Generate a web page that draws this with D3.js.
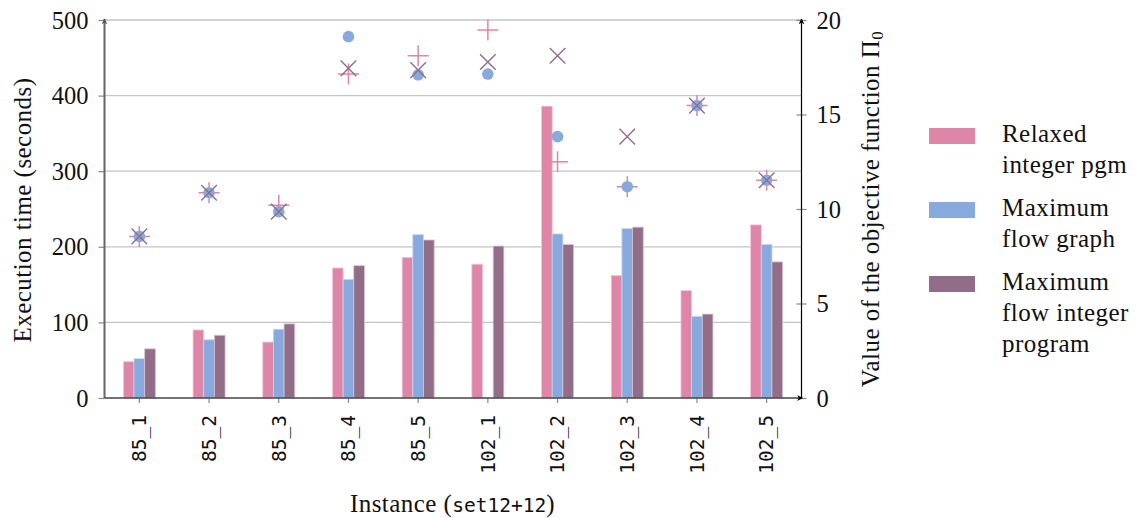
<!DOCTYPE html>
<html>
<head>
<meta charset="utf-8">
<script src="https://cdn.jsdelivr.net/npm/d3@7"></script>
<style>
  html, body { margin: 0; padding: 0; background: #fff; }
  svg { display: block; }
</style>
</head>
<body>
<svg id="chart" width="1141" height="518"></svg>
<script>
// ---- data ----
const categories = ["85_1","85_2","85_3","85_4","85_5","102_1","102_2","102_3","102_4","102_5"];
const seriesNames = ["Relaxed integer pgm", "Maximum flow graph", "Maximum flow integer program"];
// execution time (seconds), left axis
const timeRelaxed = [48, 90, 74, 172, 186, 177, 386, 162, 142, 229];
const timeFlowGraph = [52, 77, 91, 157, 216, 0, 217, 224, 108, 203];
const timeFlowIP = [65, 83, 98, 175, 209, 201, 203, 226, 111, 180];
// objective value, right axis
const objRelaxed = [8.55, 10.86, 10.2, 17.14, 18.11, 19.47, 12.5, 11.18, 15.47, 11.52];
const objFlowGraph = [8.55, 10.86, 9.86, 19.12, 17.1, 17.14, 13.83, 11.18, 15.47, 11.52];
const objFlowIP = [8.55, 10.86, 9.86, 17.44, 17.35, 17.78, 18.11, 13.83, 15.47, 11.52];
const leftTicks = [0, 100, 200, 300, 400, 500];
const rightTicks = [0, 5, 10, 15, 20];
const legendLines = [["Relaxed", "integer pgm"], ["Maximum", "flow graph"], ["Maximum", "flow integer", "program"]];

// ---- style ----
const colors = ["#de86a8", "#87a9dd", "#916d88"];
const borders = ["#f3c6d7", "#c6d6f0", "#d6c2d0"];
const serif = "'Liberation Serif', 'DejaVu Serif', serif";
const mono = "'DejaVu Sans Mono', monospace";
const fs = 25, ls = 0.45;

const svg = d3.select("#chart");
const L = 104.5, R = 801.5, T = 20, B = 398;

const x = d3.scaleBand().domain(categories).range([L, R]).padding(0);
const yL = d3.scaleLinear().domain([0, 500]).range([B, T]);
const yR = d3.scaleLinear().domain([0, 20]).range([B, T]);

const defs = svg.append("defs");
function arrow(id, color) {
  defs.append("marker").attr("id", id).attr("viewBox", "0 0 10 10")
    .attr("refX", 9).attr("refY", 5).attr("markerWidth", 6).attr("markerHeight", 6)
    .attr("markerUnits", "userSpaceOnUse").attr("orient", "auto")
    .append("path").attr("d", "M0,0 L10,5 L0,10 L3,5 Z").attr("fill", color);
}
arrow("arrGrey", "#555");
arrow("arrBlack", "#000");

// grid lines
svg.append("g").selectAll("line").data(leftTicks.filter(d => d > 0)).join("line")
  .attr("x1", L).attr("x2", R).attr("y1", d => yL(d)).attr("y2", d => yL(d))
  .attr("stroke", "#c4c4c4").attr("stroke-width", 1.3);

// left axis ticks + labels
const gl = svg.append("g").attr("transform", `translate(${L},0)`)
  .call(d3.axisLeft(yL).tickValues(leftTicks).tickSize(6).tickPadding(10));
gl.select(".domain").remove();
gl.selectAll(".tick line").attr("stroke", "#888").attr("stroke-width", 1.2);
gl.selectAll(".tick text").attr("font-family", serif).attr("font-size", 24.5).attr("fill", "#111").attr("dy", "0.33em");

// right axis ticks + labels
const gr = svg.append("g").attr("transform", `translate(${R},0)`)
  .call(d3.axisRight(yR).tickValues(rightTicks).tickSize(5).tickPadding(10));
gr.select(".domain").remove();
gr.selectAll(".tick line").attr("x1", -5).attr("stroke", "#888").attr("stroke-width", 1.2);
gr.selectAll(".tick text").attr("font-family", serif).attr("font-size", 24.5).attr("fill", "#111").attr("dy", "0.33em");

// x axis ticks + labels
const gx = svg.append("g").attr("transform", `translate(0,${B})`)
  .call(d3.axisBottom(x).tickSize(5).tickPadding(0));
gx.select(".domain").remove();
gx.selectAll(".tick line").attr("stroke", "#888").attr("stroke-width", 1.2);
gx.selectAll(".tick text")
  .attr("font-family", mono).attr("font-size", 19.5).attr("fill", "#111")
  .attr("text-anchor", "end").attr("transform", "rotate(-90)")
  .attr("x", -17).attr("y", 0).attr("dy", "0.35em");

// bars
const bw = x.bandwidth() * 0.153;
const series = [timeRelaxed, timeFlowGraph, timeFlowIP];
series.forEach((vals, si) => {
  svg.append("g").selectAll("rect").data(vals.map((v, i) => ({ c: categories[i], v })).filter(d => d.v > 0))
    .join("rect")
    .attr("x", d => x(d.c) + x.bandwidth() / 2 + (si - 1.5) * bw)
    .attr("width", bw)
    .attr("y", d => yL(d.v))
    .attr("height", d => B - yL(d.v))
    .attr("fill", colors[si])
    .attr("stroke", borders[si]).attr("stroke-width", 0.8);
});

// axes lines
svg.append("line").attr("x1", L).attr("x2", L).attr("y1", B).attr("y2", T - 1)
  .attr("stroke", "#666").attr("stroke-width", 2).attr("marker-end", "url(#arrGrey)");
svg.append("line").attr("x1", L).attr("x2", R + 1).attr("y1", B).attr("y2", B)
  .attr("stroke", "#444").attr("stroke-width", 1.6).attr("marker-end", "url(#arrBlack)");
svg.append("line").attr("x1", R).attr("x2", R).attr("y1", B).attr("y2", T - 1)
  .attr("stroke", "#000").attr("stroke-width", 1.2).attr("marker-end", "url(#arrBlack)");

// markers
const cx = c => x(c) + x.bandwidth() / 2;
const plus = svg.append("g");
objRelaxed.forEach((v, i) => {
  const X = cx(categories[i]), Y = yR(v), s = 10.5;
  plus.append("path").attr("d", `M${X - s},${Y}H${X + s}M${X},${Y - s}V${Y + s}`)
    .attr("stroke", colors[0]).attr("stroke-width", 1.5).attr("fill", "none");
});
svg.append("g").selectAll("circle").data(objFlowGraph.map((v, i) => ({ c: categories[i], v })))
  .join("circle").attr("cx", d => cx(d.c)).attr("cy", d => yR(d.v)).attr("r", 5.8)
  .attr("fill", colors[1]);
const cross = svg.append("g");
objFlowIP.forEach((v, i) => {
  const X = cx(categories[i]), Y = yR(v), s = 7.8;
  cross.append("path").attr("d", `M${X - s},${Y - s}L${X + s},${Y + s}M${X - s},${Y + s}L${X + s},${Y - s}`)
    .attr("stroke", colors[2]).attr("stroke-width", 1.4).attr("fill", "none");
});

// axis titles
svg.append("text").attr("transform", `translate(31,210) rotate(-90)`)
  .attr("text-anchor", "middle").attr("font-family", serif).attr("font-size", fs).attr("letter-spacing", ls).attr("fill", "#111")
  .text("Execution time (seconds)");
const rt = svg.append("text").attr("transform", `translate(879,209) rotate(-90)`)
  .attr("text-anchor", "middle").attr("font-family", serif).attr("font-size", fs).attr("letter-spacing", ls).attr("fill", "#111");
rt.append("tspan").text("Value of the objective function Π");
rt.append("tspan").attr("font-size", 17).attr("dy", 4).text("0");

const xt = svg.append("text").attr("x", 452.5).attr("y", 512).attr("text-anchor", "middle")
  .attr("font-family", serif).attr("font-size", fs).attr("letter-spacing", ls).attr("fill", "#111");
xt.append("tspan").text("Instance (");
xt.append("tspan").attr("font-family", mono).attr("font-size", 19.5).attr("letter-spacing", 0).text("set12+12");
xt.append("tspan").text(")");

// legend
const legTop = [128, 202, 276];
seriesNames.forEach((n, i) => {
  const g = svg.append("g");
  g.append("rect").attr("x", 929).attr("y", legTop[i]).attr("width", 46).attr("height", 16).attr("fill", colors[i]);
  const t = g.append("text").attr("font-family", serif).attr("font-size", fs).attr("letter-spacing", ls).attr("fill", "#111");
  legendLines[i].forEach((line, j) => {
    t.append("tspan").attr("x", 1002).attr("y", legTop[i] + 14 + j * 31).text(line);
  });
});
</script>
</body>
</html>
